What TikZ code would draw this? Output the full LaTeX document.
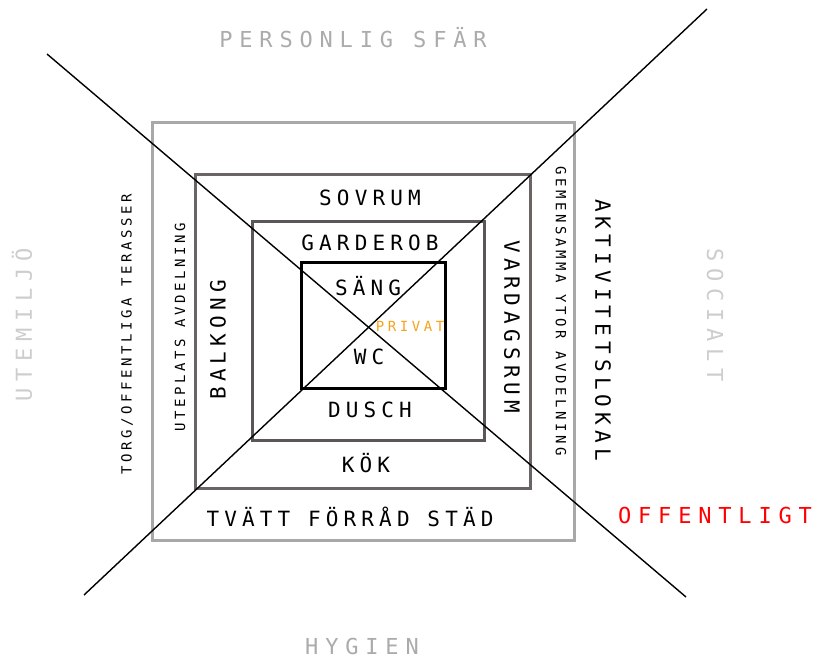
\documentclass[tikz,border=0pt]{standalone}
\usepackage{fontspec}
\usepackage{xcolor}
\usepackage{tikz}
\newfontfamily\roomfont[LetterSpace=24.5]{DejaVu Sans Mono}
\newfontfamily\zonefont[LetterSpace=25.5]{DejaVu Sans Mono}
\newfontfamily\spherefont[LetterSpace=31]{DejaVu Sans Mono}
\definecolor{ringouter}{HTML}{A8A8A8}
\definecolor{ringmid}{HTML}{6A6464}
\definecolor{ringinner}{HTML}{5C5757}
\definecolor{spheredark}{HTML}{ABABAB}
\definecolor{spherelight}{HTML}{CDCDCD}
\definecolor{privat}{HTML}{F5A31A}
\definecolor{offentlig}{HTML}{FF0000}

\begin{document}
\begin{tikzpicture}[x=1pt,y=-1pt,
  room/.style={inner sep=0pt,font=\roomfont\fontsize{21}{21}\selectfont},
  zone/.style={inner sep=0pt,font=\zonefont\fontsize{14}{14}\selectfont},
  sphere/.style={inner sep=0pt,text=#1,font=\spherefont\fontsize{22}{22}\selectfont},
  ring/.style={draw=#1,line width=3pt},
  axis/.style={draw=black,line width=1.4pt},
  ]
  \useasboundingbox (0,0) rectangle (813,659);

  % ---- nested rings: from public to private ----
  \draw[ring=ringouter] (152,122) rectangle (574,540);
  \draw[ring=ringmid]   (195,174) rectangle (530,488);
  \draw[ring=ringinner] (252,221) rectangle (484,440);
  \draw[ring=black]     (301,262) rectangle (445,388);

  % ---- the two axes ----
  \coordinate (nw) at (47,54);
  \coordinate (se) at (686,597);
  \coordinate (sw) at (84,595);
  \coordinate (ne) at (707,9);
  \draw[axis] (nw) -- (se);
  \draw[axis] (sw) -- (ne);

  % ---- spheres round the diagram ----
  \node[sphere=spheredark]  (personlig) at (353,38)  {PERSONLIG SFÄR};
  \node[sphere=spheredark]  (hygien)    at (362,646) {HYGIEN};
  \node[sphere=spherelight,rotate=90]  (utemiljo) at (22,325)  {UTEMILJÖ};
  \node[sphere=spherelight,rotate=-90] (socialt)  at (715,315) {SOCIALT};
  \node[sphere=offentlig]   (offentligt) at (715,515) {OFFENTLIGT};

  % ---- rooms, top and bottom ----
  \node[room] (sovrum)   at (370,198) {SOVRUM};
  \node[room] (garderob) at (370,243) {GARDEROB};
  \node[room] (sang)     at (368,286) {SÄNG};
  \node[room] (wc)       at (369,357) {WC};
  \node[room] (dusch)    at (370,410) {DUSCH};
  \node[room] (kok)      at (366,463) {KÖK};
  \node[room] (tvatt)    at (350,517) {TVÄTT FÖRRÅD STÄD};
  \node[zone,text=privat] (privatlbl) at (410,326) {PRIVAT};

  % ---- rooms, left and right ----
  \node[room,rotate=90]  (balkong)  at (218,340) {BALKONG};
  \node[zone,rotate=90]  (uteplats) at (180,327) {UTEPLATS AVDELNING};
  \node[zone,rotate=90]  (torg)     at (127,334) {TORG/OFFENTLIGA TERASSER};
  \node[room,rotate=-90] (vardag)   at (512,327) {VARDAGSRUM};
  \node[zone,rotate=-90] (gemensam) at (561,311) {GEMENSAMMA YTOR AVDELNING};
  \node[room,rotate=-90] (aktivitet) at (603,330) {AKTIVITETSLOKAL};
\end{tikzpicture}
\end{document}
